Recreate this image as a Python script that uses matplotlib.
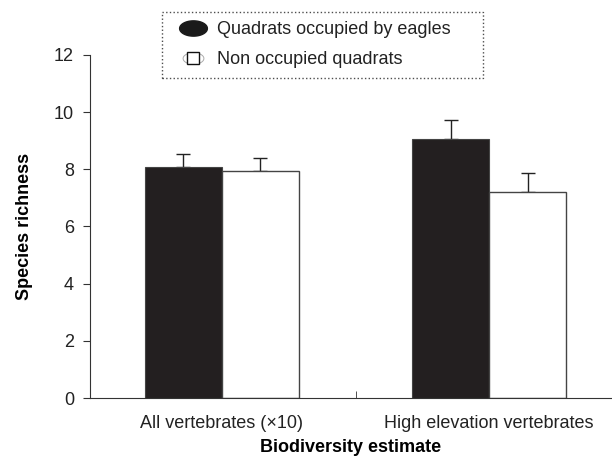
import numpy as np
import matplotlib
matplotlib.use("Agg")
import matplotlib.pyplot as plt
from matplotlib.path import Path
from matplotlib.lines import Line2D
from matplotlib.legend_handler import HandlerTuple

plt.rcParams["font.family"] = ["Liberation Sans", "DejaVu Sans"]

groups = ["All vertebrates (\u00d710)", "High elevation vertebrates"]
occupied = [8.07, 9.07]
occupied_err = [0.46, 0.66]
non_occupied = [7.95, 7.22]
non_occupied_err = [0.45, 0.65]
series_labels = ["Quadrats occupied by eagles", "Non occupied quadrats"]

fs = 13
fig = plt.figure(figsize=(6.12, 4.58), dpi=100)
ax = fig.add_axes([0.147, 0.131, 0.853, 0.749])

x = np.arange(len(groups))
w = 0.288
ax.bar(x - w / 2, occupied, w, color="#231f20", edgecolor="#444444", lw=0.8, zorder=2)
ax.bar(x + w / 2, non_occupied, w, color="white", edgecolor="#444444", lw=1.0, zorder=2)
zeros = np.zeros(len(groups))
ax.errorbar(x - w / 2, occupied, yerr=[zeros, occupied_err], fmt="none",
            ecolor="#222222", elinewidth=1, capsize=5, capthick=1, zorder=1)
ax.errorbar(x + w / 2, non_occupied, yerr=[zeros, non_occupied_err], fmt="none",
            ecolor="#222222", elinewidth=1, capsize=5, capthick=1, zorder=1)

ax.set_xlim(-0.494, 1.46)
ax.set_ylim(0, 12)
ax.set_yticks(np.arange(0, 13, 2))
ax.set_xticks(x)
ax.set_xticklabels(groups, fontsize=fs, color="#222222")
ax.tick_params(axis="x", length=0, pad=12.5)
ax.set_xticks([0.5], minor=True)
ax.tick_params(axis="x", which="minor", length=5, direction="in", color="#333333")
ax.tick_params(axis="y", length=5, pad=6.5, labelsize=fs, color="#333333", labelcolor="#222222")
for s in ["top", "right"]:
    ax.spines[s].set_visible(False)
for s in ["left", "bottom"]:
    ax.spines[s].set_color("#333333")
ax.set_ylabel("Species richness", fontsize=fs, fontweight="bold", labelpad=15)
ax.set_xlabel("Biodiversity estimate", fontsize=fs, fontweight="bold", labelpad=5)

# legend: filled ellipse, and an open square sitting in a faint ellipse
t = np.linspace(0, 2 * np.pi, 60)
ell = Path(np.column_stack([np.cos(t), 0.55 * np.sin(t)]))
h1 = Line2D([], [], ls="none", marker=ell, markersize=20, color="#1a1a1a")
h2a = Line2D([], [], ls="none", marker=ell, markersize=15, markerfacecolor="white",
             markeredgecolor="#aaaaaa", markeredgewidth=0.7)
h2b = Line2D([], [], ls="none", marker="s", markersize=8, markerfacecolor="white",
             markeredgecolor="#111111", markeredgewidth=1.0)
leg = fig.legend([h1, (h2a, h2b)], series_labels, loc="upper left", mode="expand",
                 bbox_to_anchor=(0.2647, 0.5, 0.5245, 0.474), fontsize=fs, fancybox=False,
                 handler_map={tuple: HandlerTuple(ndivide=1, pad=0)},
                 handlelength=2.4, handletextpad=0.17, borderpad=0.5,
                 labelspacing=0.75, borderaxespad=0)
fr = leg.get_frame()
fr.set_linestyle(":")
fr.set_edgecolor("#222222")
fr.set_linewidth(1.0)
for txt in leg.get_texts():
    txt.set_color("#222222")

fig.savefig("out.png", dpi=100)
